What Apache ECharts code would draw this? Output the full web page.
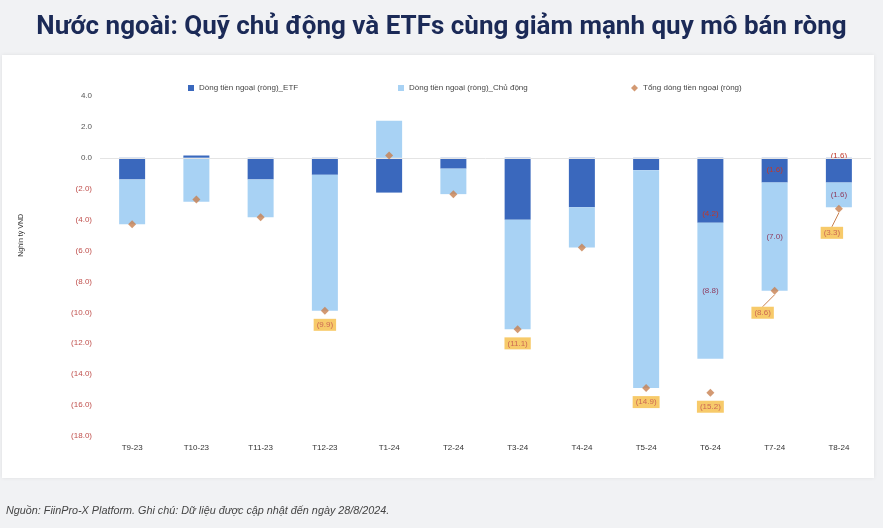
<!DOCTYPE html>
<html>
<head>
<meta charset="utf-8">
<script src="https://cdn.jsdelivr.net/npm/echarts@6/dist/echarts.min.js"></script>
<style>
  html, body { margin: 0; padding: 0; background: #f1f2f4; }
  #chart { width: 883px; height: 528px; }
</style>
</head>
<body>
<div id="chart"></div>
<script>
  // thang / nam
  var months = ['T9-23', 'T10-23', 'T11-23', 'T12-23', 'T1-24', 'T2-24', 'T3-24', 'T4-24', 'T5-24', 'T6-24', 'T7-24', 'T8-24']
  // nghin ty VND
  var etfFlow = [-1.4, 0.15, -1.4, -1.1, -2.25, -0.7, -4.0, -3.2, -0.8, -4.2, -1.6, -1.6]
  var activeFlow = [-2.9, -2.85, -2.45, -8.8, 2.4, -1.65, -7.1, -2.6, -14.1, -8.8, -7.0, -1.6]
  var totalFlow = [-4.3, -2.7, -3.85, -9.9, 0.15, -2.35, -11.1, -5.8, -14.9, -15.2, -8.6, -3.3]
  var yTicks = [4, 2, 0, -2, -4, -6, -8, -10, -12, -14, -16, -18]
  // nhan hien thi
  var etfLabelShown = [0, 0, 0, 0, 0, 0, 0, 0, 0, 1, 1, 1]
  var activeLabelShown = [0, 0, 0, 0, 0, 0, 0, 0, 0, 1, 1, 1]
  var totalLabelShown = [0, 0, 0, 1, 0, 0, 1, 0, 1, 1, 1, 1]

  var FONT = '"Liberation Sans", Arial, sans-serif'

  function fmt(v) {
    return v < 0 ? '(' + Math.abs(v).toFixed(1) + ')' : v.toFixed(1)
  }

  var etfPos = ['inside', 'inside', 'inside', 'inside', 'inside', 'inside', 'inside', 'inside', 'inside', 'insideBottom', 'inside', 'top']
  var etfData = []
  var activeData = []
  var totalData = []
  for (var i = 0; i < months.length; i++) {
    etfData.push({
      value: etfFlow[i],
      label: { show: !!etfLabelShown[i], position: etfPos[i], distance: etfPos[i] === 'top' ? -2 : 5 }
    })
    activeData.push({
      value: activeFlow[i],
      label: { show: !!activeLabelShown[i] }
    })
    totalData.push({
      value: totalFlow[i],
      label: { show: !!totalLabelShown[i] },
      labelLine: { show: i >= 10 }
    })
  }

  var myChart = echarts.init(document.getElementById('chart'))
  myChart.setOption({
    backgroundColor: '#f1f2f4',
    animation: false,
    title: {
      text: 'Nước ngoài: Quỹ chủ động và ETFs cùng giảm mạnh quy mô bán ròng',
      left: 'center',
      top: 9,
      textStyle: {
        fontFamily: 'Roboto, "Liberation Sans", sans-serif',
        fontWeight: 'bold',
        fontSize: 26,
        color: '#1b2a57'
      }
    },
    graphic: [
      {
        type: 'rect',
        z: -10,
        shape: { x: 2, y: 55, width: 872, height: 423 },
        style: { fill: '#ffffff', shadowBlur: 4, shadowColor: 'rgba(0,0,0,0.08)' }
      },
      {
        type: 'text',
        left: 18,
        top: 214,
        rotation: Math.PI / 2,
        style: { text: 'Nghìn tỷ VND', fontSize: 7, fontFamily: FONT, fill: '#333' }
      },
      {
        type: 'text',
        left: 6,
        top: 505,
        style: {
          text: 'Nguồn: FiinPro-X Platform. Ghi chú: Dữ liệu được cập nhật đến ngày 28/8/2024.',
          fontSize: 10.8,
          fontStyle: 'italic',
          fontFamily: FONT,
          fill: '#444'
        }
      }
    ],
    legend: [
      {
        left: 183, top: 79, itemWidth: 6, itemHeight: 6, itemGap: 4,
        textStyle: { fontSize: 8, color: '#444', fontFamily: FONT },
        data: [{ name: 'Dòng tiền ngoại (ròng)_ETF', icon: 'rect' }]
      },
      {
        left: 393, top: 79, itemWidth: 6, itemHeight: 6, itemGap: 4,
        textStyle: { fontSize: 8, color: '#444', fontFamily: FONT },
        data: [{ name: 'Dòng tiền ngoại (ròng)_Chủ động', icon: 'rect' }]
      },
      {
        left: 626, top: 79, itemWidth: 7, itemHeight: 7, itemGap: 4,
        textStyle: { fontSize: 8, color: '#444', fontFamily: FONT },
        data: [{ name: 'Tổng dòng tiền ngoại (ròng)', icon: 'diamond' }]
      }
    ],
    grid: { left: 100, right: 12, top: 96, bottom: 92 },
    xAxis: {
      type: 'category',
      data: months,
      axisLine: { show: false },
      axisTick: { show: false },
      axisLabel: { fontSize: 8, color: '#333', fontFamily: FONT, margin: 8 }
    },
    yAxis: {
      type: 'value',
      min: yTicks[yTicks.length - 1],
      max: yTicks[0],
      interval: 2,
      splitLine: { show: false },
      axisLabel: {
        fontSize: 8,
        fontFamily: FONT,
        margin: 8,
        formatter: fmt,
        color: function (v) { return v < 0 ? '#c0504d' : '#555' }
      }
    },
    series: [
      {
        name: 'Dòng tiền ngoại (ròng)_ETF',
        type: 'bar',
        stack: 'flow',
        barWidth: 26,
        itemStyle: { color: '#3a68bd' },
        label: { formatter: function (p) { return fmt(p.value) }, fontSize: 8, color: '#c0392b', fontFamily: FONT },
        markLine: {
          silent: true,
          symbol: 'none',
          label: { show: false },
          lineStyle: { color: '#e4e4e4', width: 1, type: 'solid' },
          data: [{ yAxis: 0 }]
        },
        data: etfData
      },
      {
        name: 'Dòng tiền ngoại (ròng)_Chủ động',
        type: 'bar',
        stack: 'flow',
        barWidth: 26,
        itemStyle: { color: '#a8d2f4' },
        label: { position: 'inside', formatter: function (p) { return fmt(p.value) }, fontSize: 8, color: '#8e3b5e', fontFamily: FONT },
        data: activeData
      },
      {
        name: 'Tổng dòng tiền ngoại (ròng)',
        type: 'scatter',
        symbol: 'diamond',
        symbolSize: 8,
        itemStyle: { color: '#c8804f' },
        z: 5,
        label: {
          position: 'bottom',
          distance: 4,
          formatter: function (p) { return fmt(p.value) },
          fontSize: 8,
          color: '#c0504d',
          backgroundColor: '#f5bd45',
          padding: [2, 3],
          fontFamily: FONT
        },
        labelLine: { lineStyle: { color: '#c8804f', width: 1 } },
        labelLayout: function (p) {
          if (p.dataIndex === 10) return { dx: -12, dy: 8 }
          if (p.dataIndex === 11) return { dx: -7, dy: 10 }
          return {}
        },
        data: totalData
      }
    ]
  })
</script>
</body>
</html>
